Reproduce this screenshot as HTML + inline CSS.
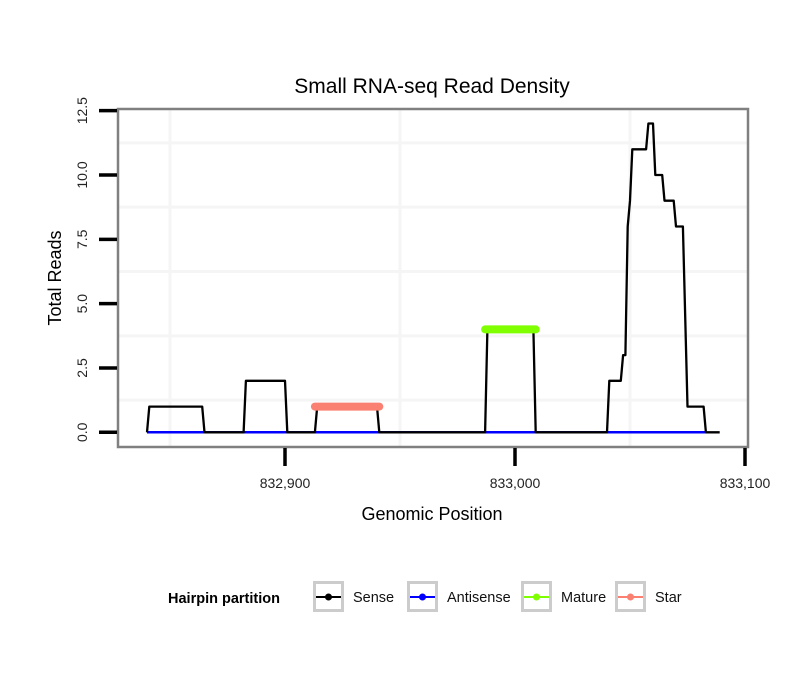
<!DOCTYPE html>
<html><head><meta charset="utf-8"><style>
body{margin:0;background:#fff;}
svg text{font-family:"Liberation Sans",sans-serif;}
</style></head><body>
<svg id="chart" width="810" height="690" xmlns="http://www.w3.org/2000/svg">
<text x="432" y="93" font-size="21" text-anchor="middle">Small RNA-seq Read Density</text>
<g id="grid"></g>
<g id="series"></g>
<rect x="118" y="109" width="630" height="338" fill="none" stroke="#808080" stroke-width="2.5"/>
<g id="axes"></g>
<text x="432" y="520" font-size="18" text-anchor="middle">Genomic Position</text>
<text transform="translate(61,278) rotate(-90)" font-size="18" text-anchor="middle">Total Reads</text>
<g>
<text x="168" y="603" font-size="14.5" font-weight="bold">Hairpin partition</text>
<g id="legend-items"></g>
</g>
</svg>
<script>
const xTicks=[832900,833000,833100];
const xTickLabels=["832,900","833,000","833,100"];
const xMinor=[832850,832950,833050];
const yTicks=[0,2.5,5,7.5,10,12.5];
const yTickLabels=["0.0","2.5","5.0","7.5","10.0","12.5"];
const yMinor=[1.25,3.75,6.25,8.75,11.25];
const senseX=[832840,832841,832864,832865,832882,832883,832900,832901,832913,832914,832940,832941,832987,832988,833008,833009,833040,833041,833046,833047,833048,833049,833050,833051,833057,833058,833060,833061,833064,833065,833069,833070,833073,833075,833082,833083,833089];
const senseY=[0,1,1,0,0,2,2,0,0,1,1,0,0,4,4,0,0,2,2,3,3,8,9,11,11,12,12,10,10,9,9,8,8,1,1,0,0];
const antisenseX=[832840,833083];
const antisenseY=[0,0];
const matureX=[832987,833009];
const matureY=[4,4];
const starX=[832913,832941];
const starY=[1,1];
const legendLabels=["Sense","Antisense","Mature","Star"];
const legendColors=["#000000","#0000ff","#7fff00","#fa8072"];

const X=v=>285+(v-832900)*2.3;
const Y=v=>432.3-v*25.73;
const NS="http://www.w3.org/2000/svg";
function mk(tag,attrs,parent){const e=document.createElementNS(NS,tag);for(const k in attrs)e.setAttribute(k,attrs[k]);parent.appendChild(e);return e;}
const grid=document.getElementById('grid'),series=document.getElementById('series'),axes=document.getElementById('axes');
mk('rect',{x:118,y:109,width:630,height:338,fill:'#fff'},grid);
xMinor.forEach(v=>{const l=mk('line',{x1:X(v),x2:X(v),y1:110,y2:446,stroke:'#f5f5f5','stroke-width':3},grid);

});
yMinor.forEach(v=>{const l=mk('line',{x1:119,x2:747,y1:Y(v),y2:Y(v),stroke:'#f5f5f5','stroke-width':3},grid);

});
function path(xs,ys,color,w,name,cap){
 const d=xs.map((x,i)=>(i?'L':'M')+X(x).toFixed(1)+','+Y(ys[i]).toFixed(1)).join('');
 const p=mk('path',{d:d,fill:'none',stroke:color,'stroke-width':w,'stroke-linejoin':'round','stroke-linecap':cap||'butt'},series);
 
 
}
path(antisenseX,antisenseY,'#0000ff',2.5,'antisense-line');
path(senseX,senseY,'#000',2.3,'sense-line');
path(starX,starY,'#fa8072',8,'star-line','round');
path(matureX,matureY,'#7fff00',8,'mature-line','round');
xTicks.forEach((v,i)=>{
 const t=mk('line',{x1:X(v),x2:X(v),y1:448,y2:466,stroke:'#000','stroke-width':3.5},axes);
 
 
 const tx=mk('text',{x:X(v),y:488,'font-size':14,'text-anchor':'middle',fill:'#222'},axes);
 tx.textContent=xTickLabels[i];
 
 
});
yTicks.forEach((v,i)=>{
 const t=mk('line',{x1:99,x2:117,y1:Y(v),y2:Y(v),stroke:'#000','stroke-width':3.5},axes);
 
 
 const tx=mk('text',{transform:`translate(87,${Y(v)}) rotate(-90)`,'font-size':14,'text-anchor':'middle',fill:'#222'},axes);
 tx.textContent=yTickLabels[i];
 
 
});
const li=document.getElementById('legend-items');
const lx=[313,407,521,615];
legendLabels.forEach((lab,i)=>{
 const x=lx[i];
 const g=mk('g',{},li);
 
 
 mk('rect',{x:x+1.5,y:582.5,width:28,height:28,fill:'#fff',stroke:'#ccc','stroke-width':3},g);
 mk('line',{x1:x+3,x2:x+28,y1:597,y2:597,stroke:legendColors[i],'stroke-width':2},g);
 mk('circle',{cx:x+15.5,cy:597,r:3.5,fill:legendColors[i]},g);
 const t=mk('text',{x:x+40,y:602,'font-size':14.5,fill:'#111'},g);
 t.textContent=lab;
});
</script>
</body></html>
